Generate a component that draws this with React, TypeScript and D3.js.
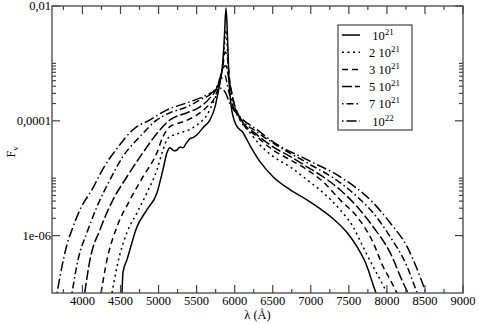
import { useEffect, useRef } from 'react';
import * as d3 from 'd3';

// wavelength (Å) and F_nu for each column density
const lam1e21 = [4520, 4533, 4585, 4717, 4848, 4980, 5058, 5111, 5150, 5203, 5242, 5282, 5321, 5361, 5413, 5453, 5505, 5584, 5676, 5742, 5781, 5820, 5847, 5866, 5886, 5905, 5926, 5952, 6018, 6110, 6202, 6333, 6504, 6727, 6950, 7121, 7292, 7476, 7607, 7739, 7818, 7857];
const flux1e21 = [1.0e-7, 2.3e-7, 3.8e-7, 1.43e-6, 2.83e-6, 5.6e-6, 1.41e-5, 2.8e-5, 3.4e-5, 3.0e-5, 3.1e-5, 3.5e-5, 3.4e-5, 4.0e-5, 4.9e-5, 5.1e-5, 5.7e-5, 7.6e-5, 1.04e-4, 1.75e-4, 3.07e-4, 5.8e-4, 1.15e-3, 3.1e-3, 9.2e-3, 3.1e-3, 5.2e-4, 1.9e-4, 8.5e-5, 6.2e-5, 3.7e-5, 1.94e-5, 1.06e-5, 6.3e-6, 4.2e-6, 2.95e-6, 1.98e-6, 1.13e-6, 6.4e-7, 2.9e-7, 1.41e-7, 1.0e-7];

const lam2e21 = [4388, 4454, 4585, 4717, 4848, 4980, 5058, 5111, 5164, 5216, 5282, 5374, 5505, 5637, 5715, 5781, 5834, 5866, 5886, 5905, 5926, 5965, 6070, 6202, 6333, 6504, 6727, 6950, 7161, 7384, 7555, 7686, 7818, 7910, 8002];
const flux2e21 = [1.0e-7, 2.9e-7, 1.13e-6, 2.5e-6, 5.6e-6, 1.41e-5, 3.1e-5, 4.7e-5, 5.5e-5, 5.7e-5, 6.2e-5, 6.7e-5, 8.5e-5, 1.27e-4, 2.06e-4, 3.5e-4, 7.7e-4, 2.1e-3, 3.8e-3, 1.7e-3, 5.2e-4, 2.32e-4, 1.04e-4, 6.2e-5, 3.8e-5, 2.4e-5, 1.58e-5, 9.4e-6, 5.6e-6, 2.83e-6, 1.43e-6, 6.4e-7, 2.9e-7, 1.72e-7, 1.0e-7];

const lam3e21 = [4244, 4323, 4454, 4625, 4796, 4980, 5058, 5150, 5242, 5321, 5505, 5637, 5742, 5807, 5847, 5873, 5899, 5926, 5978, 6070, 6294, 6504, 6727, 6950, 7161, 7384, 7607, 7818, 7949, 8041, 8133];
const flux3e21 = [1.0e-7, 3.8e-7, 1.43e-6, 4.2e-6, 1.06e-5, 2.8e-5, 5.3e-5, 7.9e-5, 8.9e-5, 9.6e-5, 1.27e-4, 1.75e-4, 2.61e-4, 4.8e-4, 9.4e-4, 1.58e-3, 1.4e-3, 6.3e-4, 2.32e-4, 1.08e-4, 5.3e-5, 3.1e-5, 2.1e-5, 1.41e-5, 8.7e-6, 4.2e-6, 2.14e-6, 7.6e-7, 2.9e-7, 1.72e-7, 1.0e-7];

const lam5e21 = [4030, 4099, 4231, 4401, 4585, 4796, 5019, 5150, 5374, 5545, 5676, 5755, 5807, 5847, 5886, 5926, 5991, 6070, 6294, 6504, 6727, 6950, 7161, 7384, 7607, 7818, 8041, 8212, 8278];
const flux5e21 = [1.0e-7, 3.8e-7, 1.27e-6, 4.2e-6, 1.06e-5, 2.8e-5, 7.0e-5, 1.04e-4, 1.38e-4, 1.75e-4, 2.51e-4, 3.5e-4, 5.6e-4, 8.4e-4, 9.1e-4, 5.2e-4, 2.06e-4, 1.13e-4, 5.7e-5, 3.5e-5, 2.4e-5, 1.58e-5, 1.06e-5, 6.3e-6, 3.2e-6, 1.43e-6, 5.1e-7, 1.52e-7, 1.0e-7];

const lam7e21 = [3863, 3942, 4060, 4191, 4362, 4533, 4756, 4980, 5150, 5374, 5545, 5702, 5781, 5834, 5873, 5912, 5965, 6070, 6294, 6504, 6950, 7384, 7607, 7818, 8041, 8265, 8396];
const flux7e21 = [1.0e-7, 3.8e-7, 1.13e-6, 3.2e-6, 9.4e-6, 2.4e-5, 5.3e-5, 1.04e-4, 1.38e-4, 1.75e-4, 2.32e-4, 3.07e-4, 4.2e-4, 5.6e-4, 6.1e-4, 3.7e-4, 1.98e-4, 1.13e-4, 6.4e-5, 4.1e-5, 1.86e-5, 8.4e-6, 4.8e-6, 2.5e-6, 9.6e-7, 2.9e-7, 1.0e-7];

const lam1e22 = [3666, 3731, 3797, 3863, 3968, 4139, 4270, 4454, 4664, 4888, 5111, 5374, 5584, 5715, 5807, 5873, 5939, 6070, 6294, 6504, 6950, 7384, 7818, 8041, 8265, 8435, 8514];
const flux1e22 = [1.0e-7, 2.9e-7, 7.0e-7, 1.27e-6, 2.83e-6, 6.8e-6, 1.46e-5, 3.3e-5, 7.0e-5, 1.04e-4, 1.55e-4, 2.06e-4, 2.61e-4, 3.2e-4, 3.7e-4, 3.2e-4, 1.98e-4, 1.17e-4, 7.0e-5, 4.3e-5, 2.1e-5, 1.06e-5, 3.75e-6, 1.68e-6, 6.4e-7, 1.94e-7, 1.0e-7];

const legendBase = [' 10', '2 10', '3 10', '5 10', '7 10', ' 10'];
const legendExp = ['21', '21', '21', '21', '21', '22'];

const xMajorTicks = [4000, 4500, 5000, 5500, 6000, 6500, 7000, 7500, 8000, 8500, 9000];
const xMinorTicks = [3750, 4250, 4750, 5250, 5750, 6250, 6750, 7250, 7750, 8250, 8750];
const yMajorTicks = [1e-2, 1e-4, 1e-6];
const yTickLabels = ['0,01', '0,0001', '1e-06'];
const yMinorTicks = [2e-4, 3e-4, 4e-4, 5e-4, 6e-4, 7e-4, 8e-4, 9e-4, 1e-3, 2e-6, 3e-6, 4e-6, 5e-6, 6e-6, 7e-6, 8e-6, 9e-6, 1e-5];

export default function App() {
  const svgRef = useRef<SVGSVGElement>(null);
  const width = 479;
  const height = 324;

  useEffect(() => {
    const svg = d3.select(svgRef.current);
    svg.selectAll('*').remove();

    const margin = { top: 6, right: 16, bottom: 31, left: 52 };
    const x0 = margin.left;
    const x1 = width - margin.right;
    const y0 = height - margin.bottom;
    const y1 = margin.top;
    const axisColor = '#444';

    const x = d3.scaleLinear().domain([3600, 9000]).range([x0, x1]);
    const y = d3.scaleLog().domain([1e-7, 1e-2]).range([y0, y1]);

    svg.append('defs').append('clipPath').attr('id', 'plot-clip')
      .append('rect')
      .attr('x', x0).attr('y', y1)
      .attr('width', x1 - x0).attr('height', y0 - y1);

    // curves
    const series = [
      [lam1e21, flux1e21],
      [lam2e21, flux2e21],
      [lam3e21, flux3e21],
      [lam5e21, flux5e21],
      [lam7e21, flux7e21],
      [lam1e22, flux1e22],
    ];
    const dashes = ['none', '2,3.5', '6,4', '10,3', '1.5,3,7,3', '1.5,3,10,3'];

    const line = d3.line<[number, number]>()
      .x(d => x(d[0]))
      .y(d => y(d[1]))
      .curve(d3.curveMonotoneX);

    const curves = svg.append('g').attr('clip-path', 'url(#plot-clip)');
    series.forEach(([lam, flux], i) => {
      const pts = lam.map((l, k) => [l, flux[k]] as [number, number]);
      curves.append('path')
        .attr('d', line(pts))
        .attr('fill', 'none')
        .attr('stroke', '#000')
        .attr('stroke-width', 1.5)
        .attr('stroke-dasharray', dashes[i]);
    });

    // frame
    svg.append('rect')
      .attr('x', x0).attr('y', y1)
      .attr('width', x1 - x0).attr('height', y0 - y1)
      .attr('fill', 'none')
      .attr('stroke', axisColor)
      .attr('stroke-width', 1.3);

    const ticks = svg.append('g').attr('stroke', axisColor).attr('stroke-width', 1.2);

    // x ticks, bottom and top
    xMajorTicks.forEach(t => {
      ticks.append('line').attr('x1', x(t)).attr('x2', x(t)).attr('y1', y0).attr('y2', y0 - 8);
      ticks.append('line').attr('x1', x(t)).attr('x2', x(t)).attr('y1', y1).attr('y2', y1 + 8);
    });
    xMinorTicks.forEach(t => {
      ticks.append('line').attr('x1', x(t)).attr('x2', x(t)).attr('y1', y0).attr('y2', y0 - 4);
      ticks.append('line').attr('x1', x(t)).attr('x2', x(t)).attr('y1', y1).attr('y2', y1 + 4);
    });

    // y ticks, left and right
    yMajorTicks.forEach(t => {
      ticks.append('line').attr('x1', x0).attr('x2', x0 + 8).attr('y1', y(t)).attr('y2', y(t));
      ticks.append('line').attr('x1', x1).attr('x2', x1 - 8).attr('y1', y(t)).attr('y2', y(t));
    });
    yMinorTicks.forEach(t => {
      ticks.append('line').attr('x1', x0).attr('x2', x0 + 4).attr('y1', y(t)).attr('y2', y(t));
      ticks.append('line').attr('x1', x1).attr('x2', x1 - 4).attr('y1', y(t)).attr('y2', y(t));
    });

    // tick labels
    svg.append('g')
      .selectAll('text')
      .data(xMajorTicks)
      .enter()
      .append('text')
      .attr('x', d => x(d))
      .attr('y', 305)
      .attr('text-anchor', 'middle')
      .attr('font-size', '12.5px')
      .text(d => String(d));

    svg.append('g')
      .selectAll('text')
      .data(yMajorTicks)
      .enter()
      .append('text')
      .attr('x', x0 - 1)
      .attr('y', d => y(d))
      .attr('dy', '0.35em')
      .attr('text-anchor', 'end')
      .attr('font-size', '12.5px')
      .text((d, i) => yTickLabels[i]);

    // axis titles
    svg.append('text')
      .attr('x', (x0 + x1) / 2)
      .attr('y', 319)
      .attr('text-anchor', 'middle')
      .attr('font-size', '12.5px')
      .text('λ (Å)');

    const yTitle = svg.append('text')
      .attr('transform', `translate(15,152) rotate(-90)`)
      .attr('text-anchor', 'middle')
      .attr('font-size', '12.5px');
    yTitle.append('tspan').text('F');
    yTitle.append('tspan').attr('dy', 3).attr('font-size', '9px').text('ν');

    // legend
    const legend = svg.append('g');
    legend.append('rect')
      .attr('x', 338).attr('y', 25)
      .attr('width', 74).attr('height', 105)
      .attr('fill', '#fff')
      .attr('stroke', axisColor)
      .attr('stroke-width', 1.2);

    legendBase.forEach((base, i) => {
      const ry = 35 + i * 17.2;
      legend.append('line')
        .attr('x1', 342).attr('x2', 360)
        .attr('y1', ry).attr('y2', ry)
        .attr('stroke', '#000')
        .attr('stroke-width', 1.5)
        .attr('stroke-dasharray', dashes[i]);
      const t = legend.append('text')
        .attr('x', 369)
        .attr('y', ry + 4.5)
        .attr('font-size', '12.5px')
        .style('white-space', 'pre');
      t.append('tspan').text(base);
      t.append('tspan').attr('dy', -5).attr('font-size', '9px').text(legendExp[i]);
    });
  }, []);

  return (
    <svg
      ref={svgRef}
      width={width}
      height={height}
      style={{
        position: 'absolute',
        left: 0,
        top: 0,
        background: '#fff',
        fontFamily: '"Liberation Serif", "Times New Roman", serif',
      }}
    />
  );
}
